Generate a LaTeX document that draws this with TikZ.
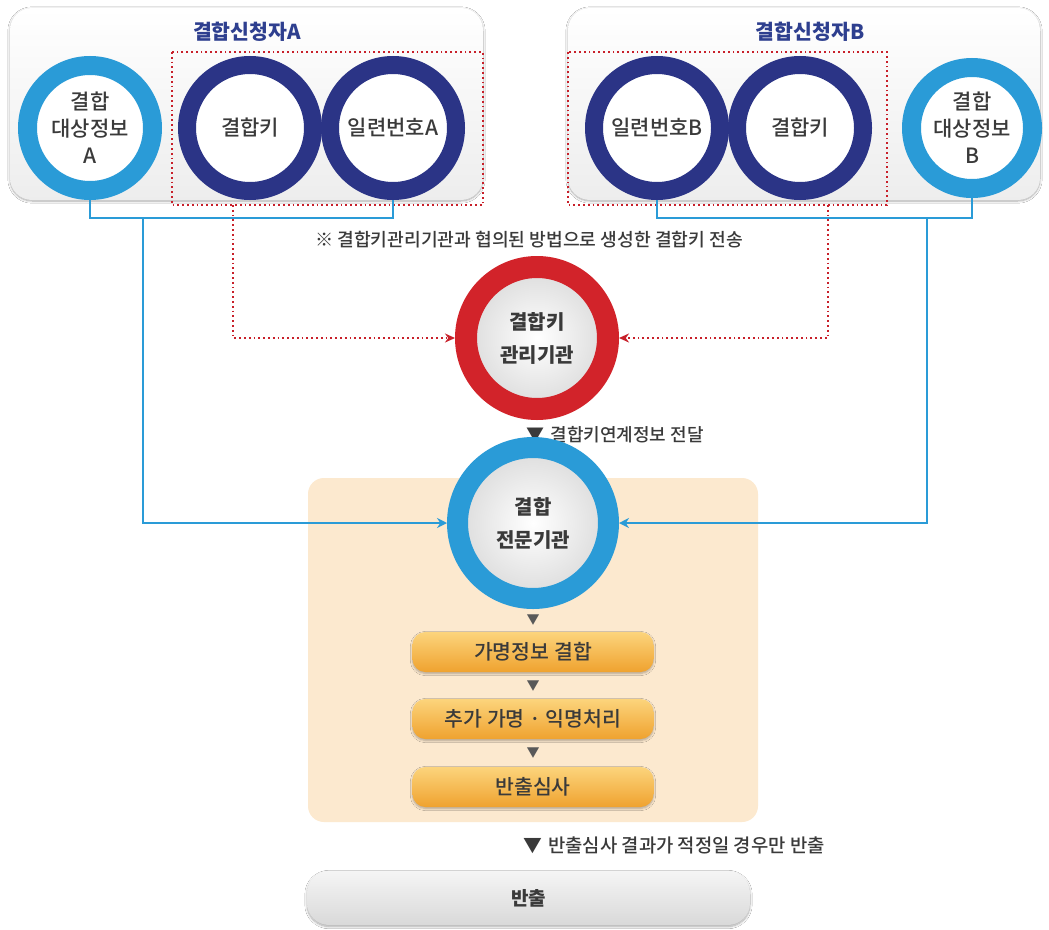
\documentclass[tikz,border=0pt]{standalone}
\usepackage{fontspec}
\setmainfont{Noto Sans CJK KR}
\newfontfamily\medfont{Noto Sans CJK KR Medium}
\usetikzlibrary{arrows.meta,shadows.blur,calc}
\definecolor{navy}{HTML}{2B3486}
\definecolor{lblue}{HTML}{2A9BD7}
\definecolor{kred}{HTML}{D2232A}
\definecolor{ttl}{HTML}{2E3F8F}
\definecolor{peach}{HTML}{FCE9CF}
\definecolor{otop}{HTML}{FCD47C}
\definecolor{obot}{HTML}{EFA22F}
\definecolor{txt}{HTML}{3A3A3A}
\definecolor{dotred}{HTML}{C8202A}
\newcommand\fsz[2]{\fontsize{#1}{#2}\selectfont}
\tikzset{
  ring/.style={circle, draw=#1, fill=white, align=center, text=txt, font=\medfont\fsz{21}{27}},
  bigring/.style={circle, draw=#1, align=center, text=txt, font=\fsz{20}{33}\bfseries,
     shading=radial, inner color=white, outer color=gray!28},
  panel/.style={rounded corners=22, top color=white, bottom color=gray!14,
     blur shadow={shadow blur steps=8, shadow xshift=0pt, shadow yshift=-1pt, shadow opacity=35}},
  reddot/.style={draw=dotred, line width=2pt, dash pattern=on 1.8pt off 3pt},
  bline/.style={draw=lblue, line width=2pt},
  barrow/.style={bline, -{Stealth[length=10pt,width=10pt]}},
  rarrow/.style={reddot, -{Stealth[length=10pt,width=9pt,fill=dotred]}},
  obox/.style={rounded corners=13, top color=otop, bottom color=obot, minimum width=241pt,
     minimum height=40pt, text=txt, font=\medfont\fsz{20.5}{22},
     blur shadow={shadow blur steps=6, shadow xshift=0pt, shadow yshift=-1.5pt, shadow opacity=30}},
  tri/.style={text=gray!70!black, font=\fsz{13}{14}},
  lbl/.style={text=txt, font=\medfont\fsz{18}{20}},
}
\begin{document}
\begin{tikzpicture}[x=1pt,y=-1pt]
\useasboundingbox (0,0) rectangle (1049,929);
\fill[white] (0,0) rectangle (1049,929);
% panels
\path[panel] (10,8) rectangle (483,200);
\path[panel] (568,8) rectangle (1040,200);
\node[text=ttl, font=\fsz{20.5}{22}\bfseries] (tA) at (247,32) {결합신청자A};
\node[text=ttl, font=\fsz{20.5}{22}\bfseries] (tB) at (810,32) {결합신청자B};
% dotted boxes
\draw[reddot] (172,52) rectangle (483,205);
\draw[reddot] (568,52) rectangle (887,205);
% top circles
\node[ring=lblue, line width=19pt, minimum size=125pt] (dA) at (90,128) {결합\\대상정보\\A};
\node[ring=navy, line width=18pt, minimum size=126pt] (kA) at (250,128) {결합키};
\node[ring=navy, line width=18pt, minimum size=126pt] (sA) at (393,128) {일련번호A};
\node[ring=navy, line width=18pt, minimum size=126pt] (sB) at (657,128) {일련번호B};
\node[ring=navy, line width=18pt, minimum size=126pt] (kB) at (800,128) {결합키};
\node[ring=lblue, line width=19pt, minimum size=121pt] (dB) at (972,128) {결합\\대상정보\\B};
% note
\node[text=txt, font=\medfont\fsz{18.2}{20}] (note) at (529,240) {※ 결합키관리기관과 협의된 방법으로 생성한 결합키 전송};
% peach area
\fill[peach, rounded corners=16] (308,478) rectangle (758,822);
% center circles
\node[bigring=kred, line width=22pt, minimum size=142pt] (K) at (537,338) {결합키\\관리기관};
\node[lbl, anchor=west] (l1) at (523,435) {▼\hspace{6pt}결합키연계정보 전달};
\node[bigring=lblue, line width=21pt, minimum size=151pt] (C) at (533,523) {결합\\전문기관};
% process boxes
\node[tri] (t1) at (533,620) {▼};
\node[obox] (b1) at (533,652) {가명정보 결합};
\node[tri] (t2) at (533,686) {▼};
\node[obox] (b2) at (533,719) {추가 가명 · 익명처리};
\node[tri] (t3) at (533,753) {▼};
\node[obox] (b3) at (533,787) {반출심사};
\node[lbl, anchor=west, font=\medfont\fsz{18.8}{20}] (l2) at (520,845) {▼\hspace{6pt}반출심사 결과가 적정일 경우만 반출};
\node[rounded corners=22, top color=gray!8, bottom color=gray!30, minimum width=443pt, minimum height=54pt,
  text=txt, font=\fsz{19}{20}\bfseries,
  blur shadow={shadow blur steps=8, shadow xshift=0pt, shadow yshift=-1.5pt, shadow opacity=35}] (out) at (528.5,898) {반출};
% blue connectors
\coordinate (jl) at (143,218);
\coordinate (jr) at (927,218);
\draw[bline] (dA.south) |- (jl) -| (sA.south);
\draw[barrow] (jl) |- (C.west);
\draw[bline] (dB.south) |- (jr) -| (sB.south);
\draw[barrow] (jr) |- (C.east);
% red dotted connectors
\coordinate (ka) at (233,205);
\coordinate (kb) at (828,205);
\draw[rarrow] (ka) |- (K.west);
\draw[rarrow] (kb) |- (K.east);
\end{tikzpicture}
\end{document}
